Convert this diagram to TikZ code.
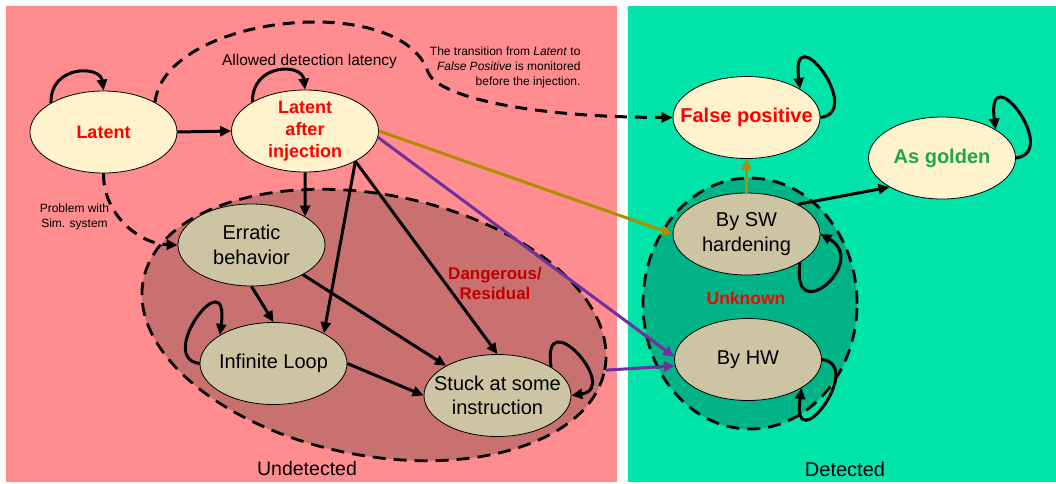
\documentclass[tikz,border=0pt]{standalone}
\usepackage{fontspec}
\setmainfont{Liberation Sans}
\usetikzlibrary{arrows.meta,shapes.geometric}

\definecolor{undetbg}{HTML}{FF8C8F}
\definecolor{detbg}{HTML}{00E3A9}
\definecolor{dangerfill}{HTML}{C97171}
\definecolor{unkfill}{HTML}{00B387}
\definecolor{lightstate}{HTML}{FFF2CC}
\definecolor{tanstate}{HTML}{CCC4A3}
\definecolor{swarrow}{HTML}{B08C00}
\definecolor{hwarrow}{HTML}{7030A0}
\definecolor{alertred}{HTML}{FF0000}
\definecolor{darkalert}{HTML}{C00000}
\definecolor{goldgreen}{HTML}{20A64A}

\begin{document}
\begin{tikzpicture}[x=1pt,y=-1pt,
  state/.style={ellipse, draw=black, line width=0.8pt, minimum width=147pt,
    minimum height=82pt, inner xsep=-30pt, inner ysep=-12pt, align=center},
  hotstate/.style={state, fill=lightstate, text=alertred,
    font=\fontsize{18}{22}\selectfont\bfseries},
  bigstate/.style={hotstate, font=\fontsize{20}{24}\selectfont\bfseries},
  plainstate/.style={state, fill=tanstate, text=black,
    font=\fontsize{20}{24.5}\selectfont},
  conn/.style={line width=3pt, -{Triangle[length=11pt,width=10pt]}},
  dashconn/.style={conn, dash pattern=on 12pt off 8pt},
  region/.style={ellipse, draw=black, line width=2.8pt, dash pattern=on 13pt off 8pt},
  swconn/.style={conn, draw=swarrow, -{Triangle[length=11pt,width=10pt,fill=swarrow]}},
  hwconn/.style={conn, draw=hwarrow, -{Triangle[length=11pt,width=10pt,fill=hwarrow]}},
]
\useasboundingbox (0,0) rectangle (1056,483);
\fill[white] (0,0) rectangle (1056,483);

% the two outcome areas
\fill[undetbg] (6,6) rectangle (617,482);
\fill[detbg] (628,6) rectangle (1056,482);

% grouping regions
\node[region, fill=dangerfill, minimum width=470pt, minimum height=261pt,
      rotate=-11] (danger) at (374,325) {};
\node[region, fill=unkfill, minimum width=214pt, minimum height=251pt]
      (unknown) at (750,303.5) {};

% states
\node[hotstate] (L) at (103.5,132) {Latent};
\node[hotstate] (LAI) at (305,131) {Latent\\after\\injection};
\node[bigstate] (FP) at (746.5,117.5) {False positive};
\node[bigstate, text=goldgreen] (AG) at (942,158) {As golden};
\node[plainstate] (SW) at (746.5,234) {By SW\\hardening};
\node[plainstate] (HW) at (748,359.5) {By HW};
\node[plainstate] (ER) at (251.5,245) {Erratic\\behavior};
\node[plainstate] (IL) at (273.5,363.5) {Infinite Loop};
\node[plainstate] (ST) at (497.5,395.5) {Stuck at some\\instruction};

% labels
\node[font=\fontsize{15.5}{18}\selectfont] (latency) at (309.5,61) {Allowed detection latency};
\node[font=\fontsize{12}{15}\selectfont, align=right, anchor=east] (note) at (584,67)
  {The transition from \emph{Latent} to\\\emph{False Positive} is monitored\\before the injection.};
\node[font=\fontsize{12}{15}\selectfont, align=center] (simprob) at (74.5,216.5)
  {Problem with\\Sim. system};
\node[font=\fontsize{17}{20}\selectfont\bfseries, text=darkalert, align=center]
  (dangerlbl) at (495,283) {Dangerous/\\Residual};
\node[font=\fontsize{17.5}{20}\selectfont\bfseries, text=alertred] (unklbl) at (746,298) {Unknown};
\node[font=\fontsize{19.5}{22}\selectfont] (undet) at (307,469) {Undetected};
\node[font=\fontsize{20}{22}\selectfont] (det) at (845,469) {Detected};

% dashed transitions
\draw[dashconn] (L.30) .. controls (165,15) and (400,-10) .. (428,72)
  .. controls (436,95) and (520,117) .. (FP.west);
\draw[dashconn] (L.south) .. controls (103,215) and (140,244) .. (ER.west);

% self loops
\draw[conn] (L.151) .. controls (50,65) and (100,65) .. (L.90);
\draw[conn] (LAI.151) .. controls (252,63) and (302,63) .. (LAI.90);
\draw[conn] (FP.0) .. controls (865,112) and (790,14) .. (FP.28);
\draw[conn] (AG.0) .. controls (1061,152) and (986,54) .. (AG.28);
\draw[conn] (SW.-28) .. controls (790,330) and (870,262) .. (SW.0);
\draw[conn] (HW.0) .. controls (866,365) and (791,463) .. (HW.-28);
\draw[conn] (ST.28) .. controls (541,300) and (621,388) .. (ST.0);
\draw[conn] (IL.180) .. controls (155,358) and (230,258) .. (IL.152);

% transitions
\draw[conn] (L.east) -- (LAI.west);
\draw[conn] (LAI.south) -- (ER.28);
\draw[conn] (LAI.-31) -- (IL.31);
\draw[conn] (LAI.-31) -- (ST.north);
\draw[conn] (ER.south) -- (IL.north);
\draw[conn] (ER.-30) -- (ST.150);
\draw[conn] (IL.east) -- (ST.west);
\draw[conn] (SW.30) -- (AG.209);
\draw[swconn] (LAI.east) -- (SW.west);
\draw[swconn] (SW.north) -- (FP.south);
\draw[hwconn] (LAI.-5) -- (HW.178);
\draw[hwconn] (danger.east) -- (HW.185);
\end{tikzpicture}
\end{document}
